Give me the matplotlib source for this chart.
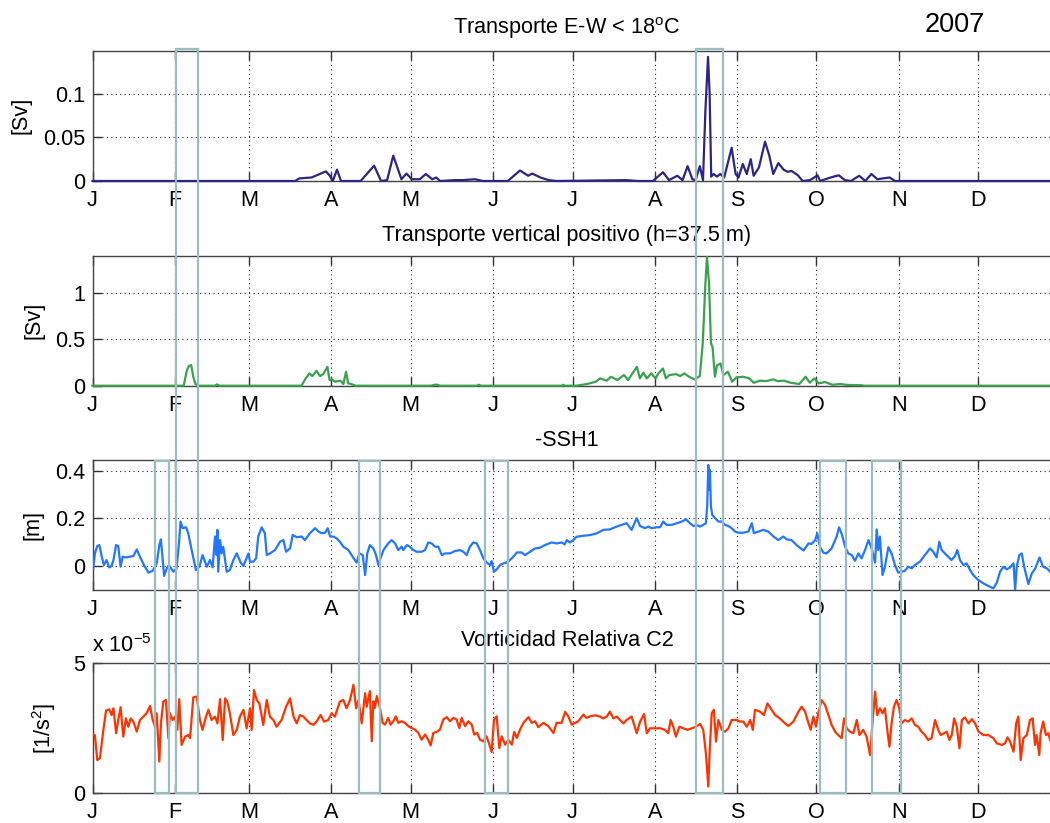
import matplotlib
matplotlib.use('Agg')
import matplotlib.pyplot as plt
import matplotlib.ticker as mticker
from matplotlib.patches import Rectangle
from matplotlib.transforms import blended_transform_factory

plt.rcParams['font.family'] = ['Liberation Sans', 'DejaVu Sans']

# ── Data (day of year 2007) ─────────────────────────────────
month_days   = [0, 31, 59, 90, 120, 151, 181, 212, 243, 273, 304, 334]
month_labels = ['J', 'F', 'M', 'A', 'M', 'J', 'J', 'A', 'S', 'O', 'N', 'D']

# Transporte E-W < 18C  [Sv]
ew_day = [0, 70.3, 76.4, 78.0, 82.6, 85.7, 88.0, 89.5, 90.6, 92.2, 93.7, 101.1, 106.2, 108.8,
          111.1, 113.4, 116.5, 118.4, 120.4, 123.4, 125.7, 128.1, 129.6, 131.1, 136.5, 139.6,
          144.2, 147.3, 156.6, 161.2, 164.3, 165.8, 168.9, 172.0, 175.1, 201.2, 205.8, 211.3,
          215.1, 217.4, 220.5, 222.5, 224.4, 226.2, 227.4, 229.0, 230.2, 231.1, 232.1, 232.7,
          233.3, 234.2, 235.5, 236.7, 238.2, 241.0, 242.5, 243.6, 245.2, 246.7, 248.2, 249.3,
          251.3, 253.6, 255.2, 256.7, 258.6, 260.6, 262.1, 263.6, 266.0, 267.8, 270.6, 273.4,
          274.4, 278.3, 281.4, 283.7, 286.0, 289.1, 291.4, 293.7, 296.0, 298.0, 300.6, 302.6, 365]
ew_val = [0, 0, 0, 0.003, 0.004, 0.008, 0.011, 0.006, 0.0, 0.013, 0.0, 0, 0.0175, 0.0,
          0.001, 0.029, 0.002, 0.0085, 0.002, 0.002, 0.008, 0.002, 0.004, 0.0, 0.001, 0.001,
          0.002, 0, 0, 0.012, 0.006, 0.0085, 0.004, 0.001, 0, 0.001, 0, 0.0,
          0.010, 0.001, 0.006, 0.001, 0.017, 0.002, 0.001, 0.017, 0.001, 0.08, 0.142, 0.10,
          0.005, 0.008, 0.005, 0.008, 0.004, 0.038, 0.008, 0.004, 0.0195, 0.008, 0.025, 0.006,
          0.0155, 0.045, 0.029, 0.008, 0.0205, 0.013, 0.0105, 0.0115, 0.0065, 0.0, 0.001, 0.0065,
          0.0, 0.004, 0.0065, 0.001, 0.0, 0.006, 0.0, 0.008, 0.002, 0.003, 0.004, 0.0, 0]

# Transporte vertical positivo (h=37.5 m)  [Sv]
vt_day = [0, 34.4, 35.6, 36.4, 37.2, 38.0, 38.8, 40.0, 46.2, 47.0, 47.8, 78.8, 80.4, 81.8,
          82.9, 84.5, 85.8, 87.0, 88.6, 89.4, 90.2, 91.5, 93.5, 94.6, 95.6, 96.4, 97.6, 99.2,
          127.8, 128.9, 130.2, 131.0, 145.0, 145.7, 146.4, 177.0, 177.5, 178.0, 182.4, 186.5,
          189.8, 191.4, 193.9, 195.5, 197.9, 200.4, 202.0, 203.6, 205.3, 206.4, 207.7, 209.0,
          210.7, 212.3, 213.4, 215.1, 216.2, 217.5, 220.0, 221.6, 223.2, 224.9, 227.0, 229.0,
          230.1, 231.1, 231.7, 232.5, 233.2, 233.8, 234.7, 235.5, 236.8, 237.9, 239.6, 241.2,
          242.8, 245.3, 247.7, 249.3, 251.8, 254.2, 256.7, 258.3, 260.8, 263.2, 266.5, 268.9,
          270.5, 272.2, 273.8, 276.3, 277.5, 279.0, 282.0, 284.0, 286.0, 290.0, 291.0, 365]
vt_val = [0, 0, 0.168, 0.215, 0.222, 0.097, 0.018, 0.0, 0, 0.014, 0, 0, 0.079, 0.133,
          0.104, 0.161, 0.104, 0.125, 0.204, 0.061, 0.068, 0.043, 0.054, 0.018, 0.151, 0.025, 0.018, 0,
          0, 0.01, 0.01, 0, 0, 0.01, 0, 0, 0.01, 0, 0, 0.018,
          0.043, 0.079, 0.054, 0.097, 0.061, 0.115, 0.061, 0.133, 0.204, 0.079, 0.140, 0.079,
          0.133, 0.079, 0.133, 0.186, 0.079, 0.115, 0.125, 0.104, 0.133, 0.097, 0.068, 0.104,
          0.455, 1.10, 1.39, 1.10, 0.455, 0.42, 0.097, 0.22, 0.24, 0.115, 0.151, 0.043,
          0.09, 0.097, 0.079, 0.032, 0.054, 0.05, 0.068, 0.05, 0.054, 0.032, 0.018, 0.097,
          0.032, 0.079, 0.025, 0.04, 0.025, 0.01, 0.018, 0.01, 0.007, 0.005, 0, 0]

# -SSH1  [m]
ssh_day = [0.3, 0.9, 1.8, 2.6, 3.5, 4.3, 5.3, 6.3, 7.2, 7.9, 8.9, 9.7, 10.6, 11.4, 12.6, 14.1,
           15.4, 16.7, 17.9, 19.4, 21.1, 22.7, 24.2, 25.2, 25.8, 26.5, 27.0, 28.0, 28.8, 29.9,
           30.5, 31.7, 32.6, 33.2, 34.0, 35.3, 36.1, 37.4, 39.0, 40.3, 41.5, 43.1, 44.3, 45.3,
           46.2, 46.8, 47.1, 47.4, 48.1, 48.7, 49.3, 50.6, 51.8, 53.1, 54.4, 55.9, 56.9, 58.8,
           59.4, 60.6, 61.7, 62.5, 63.8, 65.0, 65.7, 66.9, 68.8, 70.7, 72.0, 73.0, 74.5, 75.5,
           77.0, 78.9, 80.1, 82.0, 83.9, 85.2, 86.4, 87.7, 88.7, 89.6, 90.8, 92.1, 93.3, 94.6,
           96.5, 98.1, 99.6, 100.6, 101.9, 102.8, 103.6,
           104.6, 105.9, 106.9, 107.8, 108.4, 109.7, 111.5, 112.8, 114.1, 115.3, 116.6, 117.2,
           118.5, 119.7, 121.0, 122.2, 124.1, 125.4, 126.6, 127.9, 129.2, 130.4, 131.7, 132.9,
           134.8, 136.7, 138.6, 139.8, 141.1, 142.3, 143.6, 144.9, 146.1, 147.4, 148.6, 149.9,
           150.5, 151.4, 152.2, 153.7, 154.9, 156.2, 157.4, 158.7, 160.0, 161.8, 163.1, 165.0,
           166.9, 168.7, 170.6, 173.1, 175.0, 176.9, 178.1, 178.8, 180.0, 181.3, 182.5, 185.0,
           187.5, 190.1,
           192.6, 195.1, 197.7, 199.5, 201.4, 203.3, 205.2, 206.5, 208.3, 209.6, 210.8, 212.7,
           214.0, 215.2, 216.5, 218.4, 220.3, 222.2, 223.8, 225.3, 226.6, 227.8, 229.1, 230.3,
           231.3, 231.8, 232.2, 232.6, 232.8, 233.2, 233.7, 234.8, 236.0, 237.3, 238.5, 239.8,
           241.0, 242.3, 243.5, 245.4, 247.3, 248.6, 249.4, 251.1, 253.0, 254.8, 256.8, 258.6,
           260.5, 261.8, 263.6, 265.5, 268.1, 270.0, 271.2, 272.5, 273.3, 274.3, 275.6, 276.8,
           278.7, 280.6, 281.5, 282.5, 283.8, 285.0, 286.3, 287.5, 288.8, 290.0, 291.3, 292.6,
           293.8, 295.1, 295.7, 296.3, 296.9, 297.9, 298.8, 300.1, 301.3, 302.6, 303.8, 305.1,
           306.3, 307.6, 308.9, 310.1, 312.0, 313.9, 315.8, 317.0, 318.3, 319.3, 320.2, 321.4,
           322.7, 323.9, 325.2, 326.1, 327.1, 328.4, 329.6, 330.9, 332.1, 334.0, 335.9, 337.8,
           339.7, 341.0, 342.2, 343.5, 344.8, 346.0, 347.3, 347.9, 348.5, 349.5, 350.4, 351.3,
           352.9, 354.2, 355.5, 357.1, 358.4, 359.9, 361.1]
ssh_val = [-0.010, 0.053, 0.084, 0.088, 0.039, 0.004, 0.025, -0.006, 0.0, 0.025, 0.088, 0.084,
           -0.003, 0.039, 0.036, 0.039, 0.042, 0.070, 0.039, 0.004, -0.028, -0.020, 0.011, 0.088,
           0.112, 0.025, -0.042, -0.010, 0.004, -0.014, -0.024, -0.010, 0.095, 0.187, 0.159, 0.163,
           0.138, 0.067, -0.017, -0.003, 0.046, -0.003, 0.025, -0.006, 0.124, 0.046, 0.152, -0.024,
           0.109, 0.053, 0.081, -0.024, -0.017, 0.025, 0.053, 0.014, 0.0, 0.053, 0.018, 0.018,
           0.032, 0.124, 0.163, 0.138, 0.046, 0.053, 0.067, 0.102, 0.109, 0.060, 0.074, 0.131,
           0.121, 0.124, 0.109, 0.138, 0.159, 0.145, 0.138, 0.140, 0.159, 0.124, 0.124, 0.116,
           0.102, 0.081, 0.067, 0.039, 0.014, 0.053, 0.046, -0.038, 0.053,
           0.088, 0.074, 0.046, 0.004, 0.025, 0.067, 0.095, 0.109, 0.095, 0.067, 0.081, 0.067,
           0.088, 0.081, 0.067, 0.060, 0.060, 0.067, 0.099, 0.095, 0.081, 0.081, 0.046, 0.053,
           0.053, 0.063, 0.067, 0.060, 0.046, 0.081, 0.099, 0.095, 0.067, 0.032, 0.015, 0.004,
           0.021, -0.024, -0.017, 0.004, 0.011, 0.015, 0.025, 0.039, 0.057, 0.057, 0.046, 0.060,
           0.074, 0.077, 0.088, 0.099, 0.095, 0.099, 0.091, 0.109, 0.099, 0.109, 0.123, 0.127,
           0.130, 0.137,
           0.152, 0.154, 0.166, 0.173, 0.180, 0.152, 0.201, 0.168, 0.159, 0.166, 0.159, 0.163,
           0.163, 0.187, 0.173, 0.173, 0.180, 0.187, 0.196, 0.180, 0.168, 0.173, 0.166, 0.173,
           0.180, 0.257, 0.425, 0.320, 0.404, 0.250, 0.215, 0.201, 0.187, 0.187, 0.173, 0.168,
           0.159, 0.145, 0.140, 0.140, 0.145, 0.180, 0.138, 0.145, 0.152, 0.145, 0.124, 0.109,
           0.124, 0.112, 0.109, 0.088, 0.065, 0.095, 0.093, 0.109, 0.138, 0.081, 0.056, 0.053,
           0.074, 0.124, 0.163, 0.135, 0.081, 0.053, 0.046, 0.022, 0.053, 0.032, 0.067, 0.109,
           0.074, 0.014, 0.154, 0.067, 0.124, -0.038, -0.003, 0.079, 0.053, 0.004, -0.028, -0.024,
           -0.020, -0.003, -0.010, 0.004, 0.018, 0.046, 0.074, 0.060, 0.036, 0.102, 0.067, 0.053,
           0.039, 0.025, 0.042, 0.067, 0.025, 0.004, 0.011, -0.017, -0.038, -0.059, -0.073, -0.084,
           -0.094, -0.070, -0.024, -0.003, -0.014, -0.006, 0.011, -0.100, -0.003, 0.046, 0.053, -0.003,
           -0.076, -0.031, -0.010, 0.036, -0.003, -0.010, -0.024]

# Vorticidad Relativa C2  [1/s^2], in units of 1e-5
vor_day = [0.0, 0.9, 1.8, 2.8, 4.1, 5.1, 6.3, 7.2, 7.9, 8.9, 9.7, 10.6, 11.6, 12.6, 13.5, 14.4,
           15.4, 16.7, 17.9, 19.2, 20.4, 21.7, 22.7, 23.6, 24.2, 25.2, 25.8, 26.7, 27.7, 28.6,
           29.2, 30.2, 31.1, 32.0, 32.7, 33.6, 34.9, 36.1, 36.8, 38.0, 39.3, 40.5, 41.5, 42.8,
           43.7, 44.9, 46.2, 47.1, 48.1, 49.1, 50.0, 50.8, 51.8, 53.1, 54.4, 55.6, 56.9, 58.1,
           59.4, 60.0, 60.9, 61.9, 62.9, 64.4, 65.7, 66.9, 68.2, 69.4, 71.3, 73.0, 74.5, 75.8,
           77.0, 78.2, 79.5, 80.7, 82.0, 83.3, 84.5, 86.0, 87.3, 88.9, 90.2, 91.4, 93.3, 94.6,
           95.8, 97.1, 98.4, 99.4, 100.3, 101.5, 102.8, 103.4,
           104.6, 105.3, 105.9, 106.5, 107.2, 108.4, 109.4, 110.3, 111.5, 112.4, 113.4, 114.4,
           115.3, 116.6, 117.8, 119.1, 120.3, 121.6, 122.9, 124.1, 125.4, 126.6, 127.5, 128.5,
           129.8, 131.0, 132.3, 133.6, 134.8, 136.1, 137.3, 138.3, 139.2, 140.5, 141.7, 143.0,
           143.9, 145.1, 146.1, 147.4, 148.6, 149.6, 150.5, 151.4, 152.4, 153.4, 154.3, 155.6,
           156.8, 158.1, 159.0, 160.0, 161.2, 162.5, 164.4, 165.6, 166.9, 168.1, 170.0, 171.9,
           173.8, 175.0, 176.9, 178.2, 179.4, 180.7, 182.0, 183.2, 185.1, 186.3, 187.6, 189.5,
           191.4, 192.6, 193.9, 195.1, 196.4, 197.7, 198.9, 200.2, 201.4, 203.3, 205.2, 206.5,
           208.0, 209.0, 210.2, 212.1, 214.0, 215.9, 217.1, 218.0, 219.0, 220.0, 221.3, 222.8,
           224.3, 225.9, 227.6, 229.1, 230.3, 231.3, 232.2, 232.8, 233.5, 234.3, 235.1, 236.0,
           237.3, 238.5, 239.8, 241.0, 242.9, 244.2, 245.4, 246.7, 248.0, 249.0, 249.8, 251.7,
           253.2, 254.5, 255.7, 257.4, 259.2, 261.1, 262.4, 264.3, 266.2, 267.4, 268.7, 269.6,
           270.8, 271.8, 272.8, 273.7, 274.9, 276.2, 277.5, 278.7, 280.0, 281.2, 282.5, 283.4,
           284.4, 285.6, 286.9, 288.2, 289.2, 290.6, 291.9, 293.2, 294.2, 295.1, 295.9, 296.9,
           297.9, 298.8, 299.7, 300.5, 301.3, 302.2, 303.2, 304.2, 305.1, 306.3, 307.6, 308.9,
           310.1, 311.4, 312.6, 313.9, 315.1, 316.4, 317.7, 318.9, 319.8, 321.1, 322.1, 323.1,
           324.0, 324.9, 325.9, 326.9, 327.8, 329.0, 330.3, 331.6, 332.8, 334.1, 335.9, 337.8,
           339.7, 341.0, 342.9, 344.1, 345.0, 346.0, 347.3, 348.3, 349.1, 350.0, 351.0, 352.3,
           353.5, 354.5, 355.4, 356.0, 357.0, 357.5, 358.5, 359.5, 360.4, 361.1]
vor_val = [2.24, 2.24, 1.28, 1.35, 2.44, 3.18, 3.23, 3.01, 3.27, 2.31, 2.82, 3.31, 2.18, 2.88,
           2.56, 2.88, 2.76, 2.37, 2.82, 2.95, 3.08, 3.36, 2.82, 2.56, 3.08, 1.22, 2.69, 3.53,
           3.59, 2.12, 3.08, 2.82, 2.95, 2.44, 3.62, 1.86, 2.18, 2.24, 2.12, 3.69, 3.72, 2.82,
           2.44, 2.95, 3.21, 2.82, 2.95, 2.69, 3.62, 2.05, 3.65, 3.53, 3.08, 2.24, 2.44, 2.95,
           3.21, 2.50, 3.27, 2.44, 3.97, 3.59, 3.46, 2.63, 3.59, 2.95, 2.82, 2.56, 2.82, 3.33,
           3.65, 2.95, 2.69, 3.01, 2.95, 2.82, 2.69, 2.63, 2.76, 3.01, 2.76, 2.82, 3.08, 2.95,
           3.53, 3.59, 3.27, 3.59, 4.17, 3.27, 3.59, 2.69, 3.85, 3.33,
           3.93, 2.00, 3.54, 3.29, 3.74, 3.29, 2.71, 2.64, 2.90, 2.64, 2.77, 2.96,
           2.71, 2.77, 2.71, 2.58, 2.51, 2.45, 2.32, 2.06, 2.26, 2.06, 1.84, 2.32,
           2.36, 2.45, 2.84, 2.93, 2.77, 2.90, 2.84, 2.51, 2.90, 2.58, 2.77, 2.64,
           2.26, 2.32, 2.06, 2.00, 2.19, 1.89, 1.59, 2.84, 2.96, 1.74, 2.19, 1.87,
           2.06, 1.87, 2.36, 2.13, 2.45, 2.71, 2.93, 2.71, 2.77, 2.54, 2.71, 2.58,
           2.32, 2.71, 2.71, 3.13, 2.96, 2.64, 2.71, 2.77, 3.03, 2.90, 2.96, 3.00,
           2.95, 2.88, 2.95, 3.14, 2.88, 2.95, 2.82, 2.69, 2.82, 2.95, 2.31, 2.76,
           3.05, 2.31, 2.50, 2.50, 2.50, 2.44, 2.31, 2.82, 2.56, 2.18, 2.56, 2.50,
           2.44, 2.50, 2.56, 2.67, 2.44, 1.54, 0.26, 1.79, 3.08, 3.21, 1.99, 2.82,
           2.44, 2.37, 2.50, 2.82, 2.82, 2.76, 2.76, 2.56, 2.82, 2.44, 3.21, 3.14,
           3.01, 3.46, 3.27, 3.01, 2.88, 2.69, 2.59, 2.76, 3.14, 3.33, 3.14, 2.82,
           2.44, 2.95, 2.56, 3.08, 3.59, 3.40, 3.01, 2.63, 2.37, 2.24, 2.12, 2.88,
           2.50, 2.37, 2.31, 2.82, 2.24, 2.44, 2.18, 1.47, 2.82, 3.91, 3.01, 3.27,
           3.08, 3.27, 2.44, 1.79, 2.69, 3.33, 3.59, 3.27, 2.69, 2.82, 2.76, 2.88,
           2.63, 2.56, 2.37, 2.24, 2.05, 2.12, 2.82, 2.44, 2.24, 2.31, 2.37, 2.05,
           2.24, 2.88, 2.56, 1.73, 2.82, 2.92, 2.69, 2.85, 2.69, 2.37, 2.24, 2.24,
           2.12, 1.92, 1.86, 1.92, 2.15, 1.99, 1.60, 2.69, 2.95, 1.28, 2.12, 2.24,
           2.82, 2.88, 1.86, 2.24, 1.47, 2.31, 2.76, 2.24, 2.31, 2.05]

# highlighted periods (start day, end day)
boxes_all  = [(31.4, 39.8), (227.5, 237.9)]
boxes_low  = [(23.5, 28.8), (100.5, 108.4), (148.0, 156.6), (274.2, 284.2), (293.9, 304.8)]

# ── Figure ──────────────────────────────────────────────────
W, H = 1050, 823
fig = plt.figure(figsize=(W / 100, H / 100), dpi=100)
fig.patch.set_facecolor('white')

FS = 15.6
left = 92.5 / W
width = 1 - left
XMAX = (W - 92.5) / 2.652

panels = [
    # top px, bottom px, days, values, colour, ylim, yticks, title, ylabel, label x px
    (50.7, 181.0, ew_day, ew_val, '#2b2683', (0, 0.149), [0, 0.05, 0.1],
     'Transporte E-W < 18$^{\\mathregular{o}}$C', '[Sv]', 21),
    (256.0, 385.7, vt_day, vt_val, '#3aa24f', (0, 1.4), [0, 0.5, 1],
     'Transporte vertical positivo (h=37.5 m)', '[Sv]', 34),
    (460.0, 590.0, ssh_day, ssh_val, '#2277fc', (-0.101, 0.446), [0, 0.2, 0.4],
     '-SSH1', '[m]', 33),
    (663.3, 793.3, vor_day, vor_val, '#ff3300', (0, 5), [0, 5],
     'Vorticidad Relativa C2', '[1/s$^{\\mathregular{2}}$]', 44),
]
title_y = [28, 235, 440, 641]

axes = []
for i, (top, bot, xd, yd, col, ylim, yt, title, ylab, labx) in enumerate(panels):
    ax = fig.add_axes([left, 1 - bot / H, width, (bot - top) / H])
    ax.plot(xd, yd, color=col, lw=1.6, clip_on=(i >= 2), zorder=3)
    ax.set_xlim(0, XMAX)
    ax.set_ylim(*ylim)
    ax.set_xticks(month_days)
    ax.set_xticklabels(month_labels)
    ax.set_yticks(yt)
    ax.yaxis.set_major_formatter(mticker.FuncFormatter(lambda v, _: f'{v:g}'))
    ax.grid(True, color='#222222', lw=0.8, ls=(0, (1, 3)))
    ax.tick_params(direction='in', length=6.5, width=1, top=True, right=False,
                   labelsize=FS, colors='#333333', labelcolor='black')
    ax.tick_params(axis='x', pad=6.5)
    ax.tick_params(axis='y', pad=5)
    for s in ['top', 'bottom', 'left']:
        ax.spines[s].set_color('#444444')
        ax.spines[s].set_linewidth(1.0)
    ax.spines['right'].set_visible(False)
    fig.text(567 / W, 1 - title_y[i] / H, title, ha='center', va='center', fontsize=FS)
    fig.text(labx / W, 1 - (top + bot) / 2 / H, ylab, rotation=90, ha='center',
             va='center', fontsize=FS)
    axes.append(ax)

fig.text(955 / W, 1 - 25 / H, '2007', ha='center', va='center', fontsize=19.5)
fig.text(92 / W, 1 - 646 / H, 'x 10$^{\\mathregular{-5}}$', ha='left', va='center', fontsize=FS)

# highlighted periods drawn across panels
trans = blended_transform_factory(axes[3].transData, fig.transFigure)
box_col = '#9bbdbd'
y_bot = 1 - 793.3 / H
for top_px, group in [(48.7, boxes_all), (460.7, boxes_low)]:
    y_top = 1 - top_px / H
    for d0, d1 in group:
        fig.add_artist(Rectangle((d0, y_bot), d1 - d0, y_top - y_bot, transform=trans,
                                 fill=False, ec=box_col, lw=1.6, zorder=10))

fig.savefig('out.png', dpi=100, facecolor='white')
